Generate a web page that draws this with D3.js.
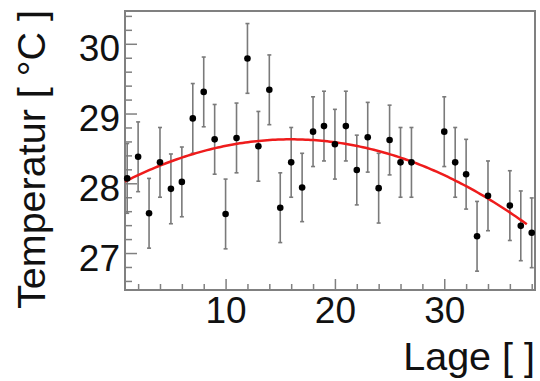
<!DOCTYPE html>
<html>
<head>
<meta charset="utf-8">
<script src="https://cdn.jsdelivr.net/npm/d3@7"></script>
<style>
  html, body { margin: 0; padding: 0; background: #fff; }
  svg { display: block; }
  text { font-family: "Liberation Sans", Arial, Helvetica, sans-serif; fill: #111; }
</style>
</head>
<body>
<div id="chart"></div>
<script>
const lage = [1, 2, 3, 4, 5, 6, 7, 8, 9, 10, 11, 12, 13, 14, 15, 16, 17, 18, 19, 20,
  21, 22, 23, 24, 25, 26, 27, 30, 31, 32, 33, 34, 36, 37, 38];
const temperatur = [28.07, 28.38, 27.57, 28.30, 27.92, 28.02, 28.93, 29.31, 28.63, 27.56,
  28.65, 29.79, 28.53, 29.34, 27.65, 28.30, 27.94, 28.74, 28.82, 28.56,
  28.82, 28.19, 28.66, 27.93, 28.62, 28.30, 28.30, 28.74, 28.30, 28.13,
  27.24, 27.82, 27.68, 27.39, 27.29];
const fehler = [0.5, 0.5, 0.5, 0.5, 0.5, 0.5, 0.5, 0.5, 0.5, 0.5,
  0.5, 0.5, 0.5, 0.5, 0.5, 0.5, 0.49, 0.5, 0.5, 0.5,
  0.5, 0.5, 0.5, 0.5, 0.5, 0.5, 0.5, 0.5, 0.5, 0.5,
  0.5, 0.5, 0.5, 0.5, 0.5];

// Fit: pol2 (p0 + p1*x + p2*x^2)
const fitParams = [27.96, 0.0838, -0.00262];
const fitRange = [0.8, 37.7];

const xTicks = [10, 20, 30];
const xMinor = [2, 4, 6, 8, 12, 14, 16, 18, 22, 24, 26, 28, 32, 34, 36, 38];
const yTicks = [27, 28, 29, 30];
const yMinor = d3.range(26.6, 30.45, 0.2).filter(v => Math.abs(v - Math.round(v)) > 0.01);

const width = 540, height = 381;
const frame = { left: 125, right: 535, top: 11, bottom: 290 };

const svg = d3.select('#chart')
  .append('svg')
  .attr('width', width)
  .attr('height', height);

const x = d3.scaleLinear().domain([0.8, 38.3]).range([frame.left, frame.right]);
const y = d3.scaleLinear().domain([26.47, 30.47]).range([frame.bottom, frame.top]);

const axisColor = '#808080';

// minor ticks
svg.append('g')
  .attr('transform', `translate(0,${frame.bottom})`)
  .call(d3.axisBottom(x).tickValues(xMinor).tickSize(-6).tickFormat(''))
  .call(g => g.select('.domain').remove())
  .call(g => g.selectAll('line').attr('stroke', axisColor).attr('stroke-width', 1.5));

svg.append('g')
  .attr('transform', `translate(${frame.left},0)`)
  .call(d3.axisLeft(y).tickValues(yMinor).tickSize(-7).tickFormat(''))
  .call(g => g.select('.domain').remove())
  .call(g => g.selectAll('line').attr('stroke', axisColor).attr('stroke-width', 1.5));

// major ticks + labels
svg.append('g')
  .attr('transform', `translate(0,${frame.bottom})`)
  .call(d3.axisBottom(x).tickValues(xTicks).tickSize(-11).tickPadding(7).tickFormat(d3.format('d')))
  .call(g => g.select('.domain').remove())
  .call(g => g.selectAll('line').attr('stroke', axisColor).attr('stroke-width', 1.5))
  .call(g => g.selectAll('text').attr('font-size', 37).attr('fill', '#111')
    .style('font-family', '"Liberation Sans", Arial, sans-serif'));

svg.append('g')
  .attr('transform', `translate(${frame.left},0)`)
  .call(d3.axisLeft(y).tickValues(yTicks).tickSize(-12).tickPadding(5).tickFormat(d3.format('d')))
  .call(g => g.select('.domain').remove())
  .call(g => g.selectAll('line').attr('stroke', axisColor).attr('stroke-width', 1.5))
  .call(g => g.selectAll('text').attr('font-size', 37).attr('fill', '#111').attr('dy', '0.46em')
    .style('font-family', '"Liberation Sans", Arial, sans-serif'));

// frame
svg.append('rect')
  .attr('x', frame.left)
  .attr('y', frame.top)
  .attr('width', frame.right - frame.left)
  .attr('height', frame.bottom - frame.top)
  .attr('fill', 'none')
  .attr('stroke', axisColor)
  .attr('stroke-width', 2);

const points = lage.map((l, i) => ({ x: l, t: temperatur[i], e: fehler[i] }));

// error bars
const bars = svg.append('g').selectAll('g.err')
  .data(points)
  .join('g')
  .attr('class', 'err')
  .attr('stroke', '#7a7a7a')
  .attr('stroke-width', 1.6);

bars.append('line')
  .attr('x1', d => x(d.x)).attr('x2', d => x(d.x))
  .attr('y1', d => y(d.t - d.e)).attr('y2', d => y(d.t + d.e));

bars.selectAll('line.cap')
  .data(d => [d.t - d.e, d.t + d.e].map(v => ({ x: d.x, v })))
  .join('line')
  .attr('class', 'cap')
  .attr('x1', d => x(d.x) - 2).attr('x2', d => x(d.x) + 2)
  .attr('y1', d => y(d.v)).attr('y2', d => y(d.v));

// fit curve
const fitX = d3.range(fitRange[0], fitRange[1] + 0.001, 0.25);
const fitLine = d3.line()
  .x(d => x(d))
  .y(d => y(fitParams[0] + fitParams[1] * d + fitParams[2] * d * d));

svg.append('path')
  .datum(fitX)
  .attr('d', fitLine)
  .attr('fill', 'none')
  .attr('stroke', '#ee1c1c')
  .attr('stroke-width', 2.5);

// markers
svg.append('g').selectAll('circle')
  .data(points)
  .join('circle')
  .attr('cx', d => x(d.x))
  .attr('cy', d => y(d.t))
  .attr('r', 3.3)
  .attr('fill', '#000');

// axis titles
svg.append('text')
  .attr('transform', `translate(45,${frame.top - 1}) rotate(-90)`)
  .attr('text-anchor', 'end')
  .attr('font-size', 39.5)
  .text('Temperatur [ °C ]');

svg.append('text')
  .attr('x', frame.right)
  .attr('y', 370)
  .attr('text-anchor', 'end')
  .attr('font-size', 39.5)
  .text('Lage [ ]');
</script>
</body>
</html>
